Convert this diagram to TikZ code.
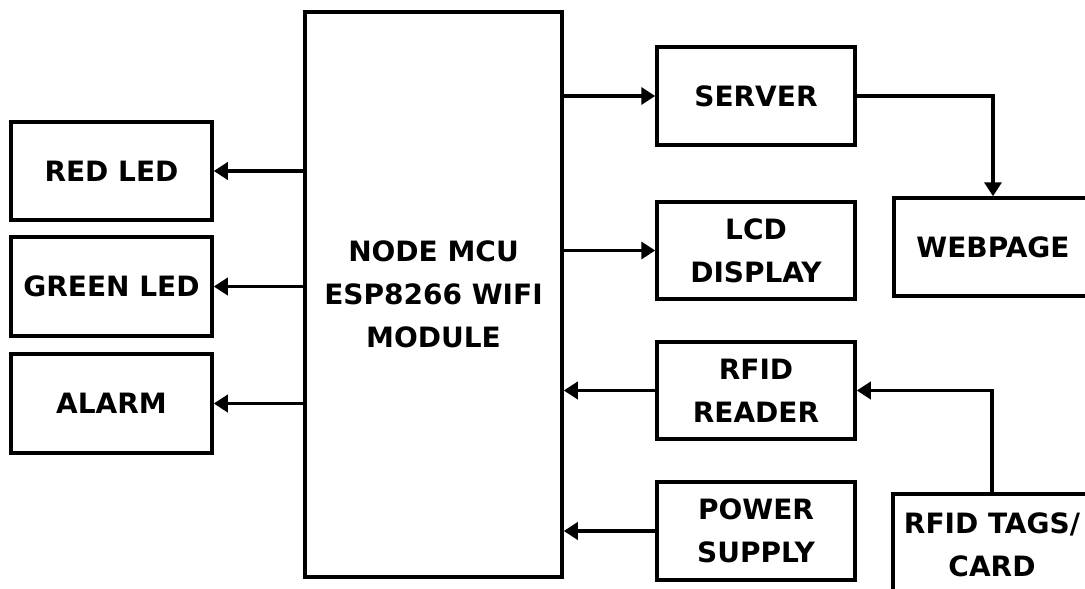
\documentclass[tikz,border=0pt]{standalone}
\usepackage{fontspec}
\setmainfont{DejaVu Sans}
\usetikzlibrary{arrows.meta}
\tikzset{
  blk/.style={draw=black, line width=3.5pt, inner sep=0pt, align=center,
    font=\bfseries\fontsize{28}{43}\selectfont},
  conn/.style={draw=black, line width=3.5pt, -{Triangle[length=14pt,width=17pt]}},
}
\begin{document}
\begin{tikzpicture}[x=1pt,y=1pt]
\useasboundingbox (0,0) rectangle (1085,-589);
\clip (0,0) rectangle (1085,-589);
\fill[white] (0,0) rectangle (1085,-589);
% nodes
\node[blk, minimum width=257pt, minimum height=565pt] (mcu) at (433.5,-294.5) {NODE MCU\\ESP8266 WIFI\\MODULE};
\node[blk, minimum width=201pt, minimum height=98pt] (red) at (111.5,-171) {RED LED};
\node[blk, minimum width=201pt, minimum height=99pt] (green) at (111.5,-286.5) {GREEN LED};
\node[blk, minimum width=201pt, minimum height=99pt] (alarm) at (111.5,-403.5) {ALARM};
\node[blk, minimum width=198pt, minimum height=98pt] (server) at (756,-96) {SERVER};
\node[blk, minimum width=198pt, minimum height=97pt] (lcd) at (756,-250.5) {LCD\\DISPLAY};
\node[blk, minimum width=198pt, minimum height=98pt] (web) at (993,-247) {WEBPAGE};
\node[blk, minimum width=198pt, minimum height=97pt] (reader) at (756,-390.5) {RFID\\READER};
\node[blk, minimum width=198pt, minimum height=98pt] (power) at (756,-531) {POWER\\SUPPLY};
\node[blk, minimum width=198pt, minimum height=102pt] (tags) at (992,-545) {RFID TAGS/\\CARD};
% connectors
\draw[conn] (red.east -| mcu.west) -- (red.east);
\draw[conn] (green.east -| mcu.west) -- (green.east);
\draw[conn] (alarm.east -| mcu.west) -- (alarm.east);
\draw[conn] (server.west -| mcu.east) -- (server.west);
\draw[conn] (lcd.west -| mcu.east) -- (lcd.west);
\draw[conn] (reader.west) -- (reader.west -| mcu.east);
\draw[conn] (power.west) -- (power.west -| mcu.east);
\draw[conn] (server.east) -| (web.north);
\draw[conn] (tags.north) |- (reader.east);
\end{tikzpicture}
\end{document}
